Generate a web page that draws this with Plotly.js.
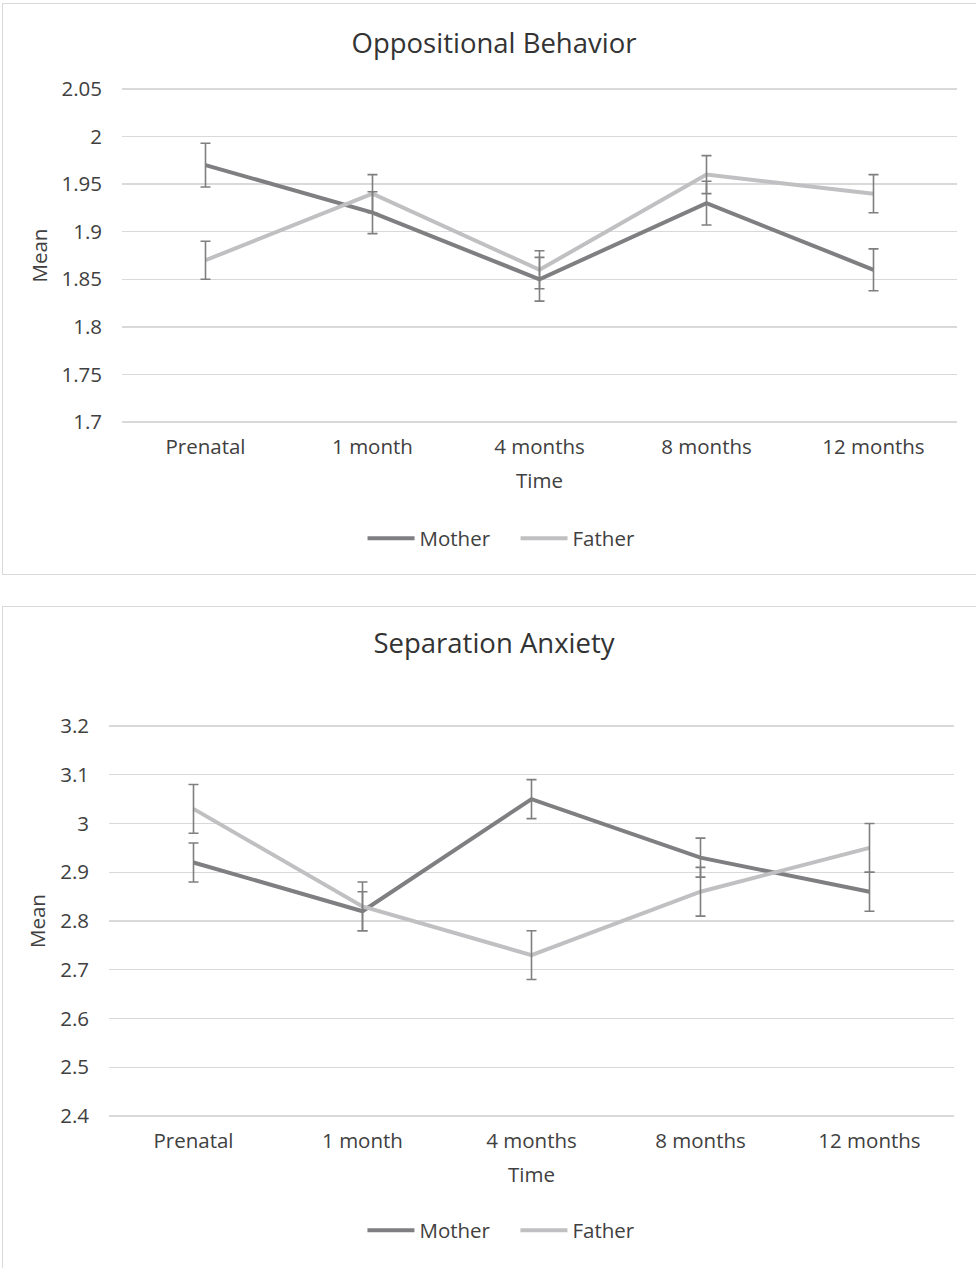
<!DOCTYPE html>
<html>
<head>
<meta charset="utf-8">
<script src="https://cdn.plot.ly/plotly-3.0.1.min.js"></script>
<style>
html,body{margin:0;padding:0;overflow:hidden;background:#fff;width:976px;height:1268px;}
.box{position:absolute;border:1px solid #d9d9d9;background:#fff;}
#b1{left:2px;top:3px;width:982px;height:570px;}
#b2{left:2px;top:606px;width:982px;height:700px;}
</style>
</head>
<body>
<div class="box" id="b1"><div id="c1"></div></div>
<div class="box" id="b2"><div id="c2"></div></div>
<script>
// Categories (time points)
const timeLabels = ["Prenatal", "1 month", "4 months", "8 months", "12 months"];

// Oppositional Behavior
const oppMother = [1.97, 1.92, 1.85, 1.93, 1.86];
const oppMotherErr = [0.023, 0.022, 0.023, 0.023, 0.022];
const oppFather = [1.87, 1.94, 1.86, 1.96, 1.94];
const oppFatherErr = [0.02, 0.02, 0.02, 0.02, 0.02];
const oppTicks = [1.7, 1.75, 1.8, 1.85, 1.9, 1.95, 2, 2.05];

// Separation Anxiety
const sepMother = [2.92, 2.82, 3.05, 2.93, 2.86];
const sepMotherErr = [0.04, 0.04, 0.04, 0.04, 0.04];
const sepFather = [3.03, 2.83, 2.73, 2.86, 2.95];
const sepFatherErr = [0.05, 0.05, 0.05, 0.05, 0.05];
const sepTicks = [2.4, 2.5, 2.6, 2.7, 2.8, 2.9, 3, 3.1, 3.2];

const FONT = "'Open Sans', 'Noto Sans', sans-serif";
const TXT = "#404040";
const MOTHER_C = "#7f7f82";
const FATHER_C = "#c0c0c2";
const ERR_C = "#7f7f7f";
const FS = 20.5;

function lineTrace(name, y, color) {
  return {x: timeLabels, y: y, name: name, type: "scatter", mode: "lines",
          line: {color: color, width: 4}, hoverinfo: "skip"};
}
function errTrace(y, err) {
  return {x: timeLabels, y: y, type: "scatter", mode: "markers", showlegend: false,
          marker: {size: 1, color: "rgba(0,0,0,0)"}, hoverinfo: "skip",
          error_y: {type: "data", array: err, visible: true, color: ERR_C, thickness: 1.6, width: 5}};
}

function makeLayout(o) {
  return {
    width: 982, height: o.height, autosize: false,
    margin: Object.assign({autoexpand: false}, o.margin),
    paper_bgcolor: "#fff", plot_bgcolor: "#fff",
    font: {family: FONT, color: TXT, size: FS},
    title: {text: o.title, font: {family: FONT, size: 27.5, color: "#333"}, x: 0.5, xref: "container", xanchor: "center",
            y: 1, yref: "container", yanchor: "top", pad: {t: o.titlePad}},
    xaxis: {type: "category", range: [-0.5, 4.5], showgrid: false, zeroline: false, showline: false, ticks: "",
            tickfont: {size: FS, color: TXT}, ticklabelstandoff: o.xStand, tickangle: 0, automargin: false,
            title: {text: "Time", font: {size: FS, color: TXT}, standoff: o.xTitleStand}},
    yaxis: {range: o.range, tickvals: o.ticks, ticktext: o.ticks.map(String), showgrid: true, gridcolor: "#d9d9d9", gridwidth: 1.3,
            zeroline: false, showline: false, ticks: "", tickfont: {size: FS, color: TXT}, ticklabelstandoff: 19, automargin: false,
            title: {text: "Mean", font: {size: FS, color: TXT}, standoff: 8}},
    showlegend: true,
    legend: {orientation: "h", x: o.legX, xref: "paper", xanchor: "center", y: o.legY, yref: "container", yanchor: "top",
             font: {size: FS, color: TXT}, traceorder: "normal", itemwidth: 47, entrywidth: 91, entrywidthmode: "pixels"},
  };
}

const cfg = {displayModeBar: false, staticPlot: true};

Plotly.newPlot("c1", [
  lineTrace("Mother", oppMother, MOTHER_C),
  lineTrace("Father", oppFather, FATHER_C),
  errTrace(oppMother, oppMotherErr),
  errTrace(oppFather, oppFatherErr)
], makeLayout({title: "Oppositional Behavior", ticks: oppTicks, range: [1.69685, 2.05315],
  margin: {l: 119, r: 28, t: 82, b: 149}, height: 570, titlePad: 30, xStand: 7, xTitleStand: 15,
  legX: 0.4713, legY: 0.0974}), cfg);

Plotly.newPlot("c2", [
  lineTrace("Mother", sepMother, MOTHER_C),
  lineTrace("Father", sepFather, FATHER_C),
  errTrace(sepMother, sepMotherErr),
  errTrace(sepFather, sepFatherErr)
], makeLayout({title: "Separation Anxiety", ticks: sepTicks, range: [2.39384, 3.20616],
  margin: {l: 106, r: 31, t: 116, b: 188}, height: 700, titlePad: 27, xStand: 7, xTitleStand: 15,
  legX: 0.481, legY: 0.1379}), cfg);
</script>
</body>
</html>
